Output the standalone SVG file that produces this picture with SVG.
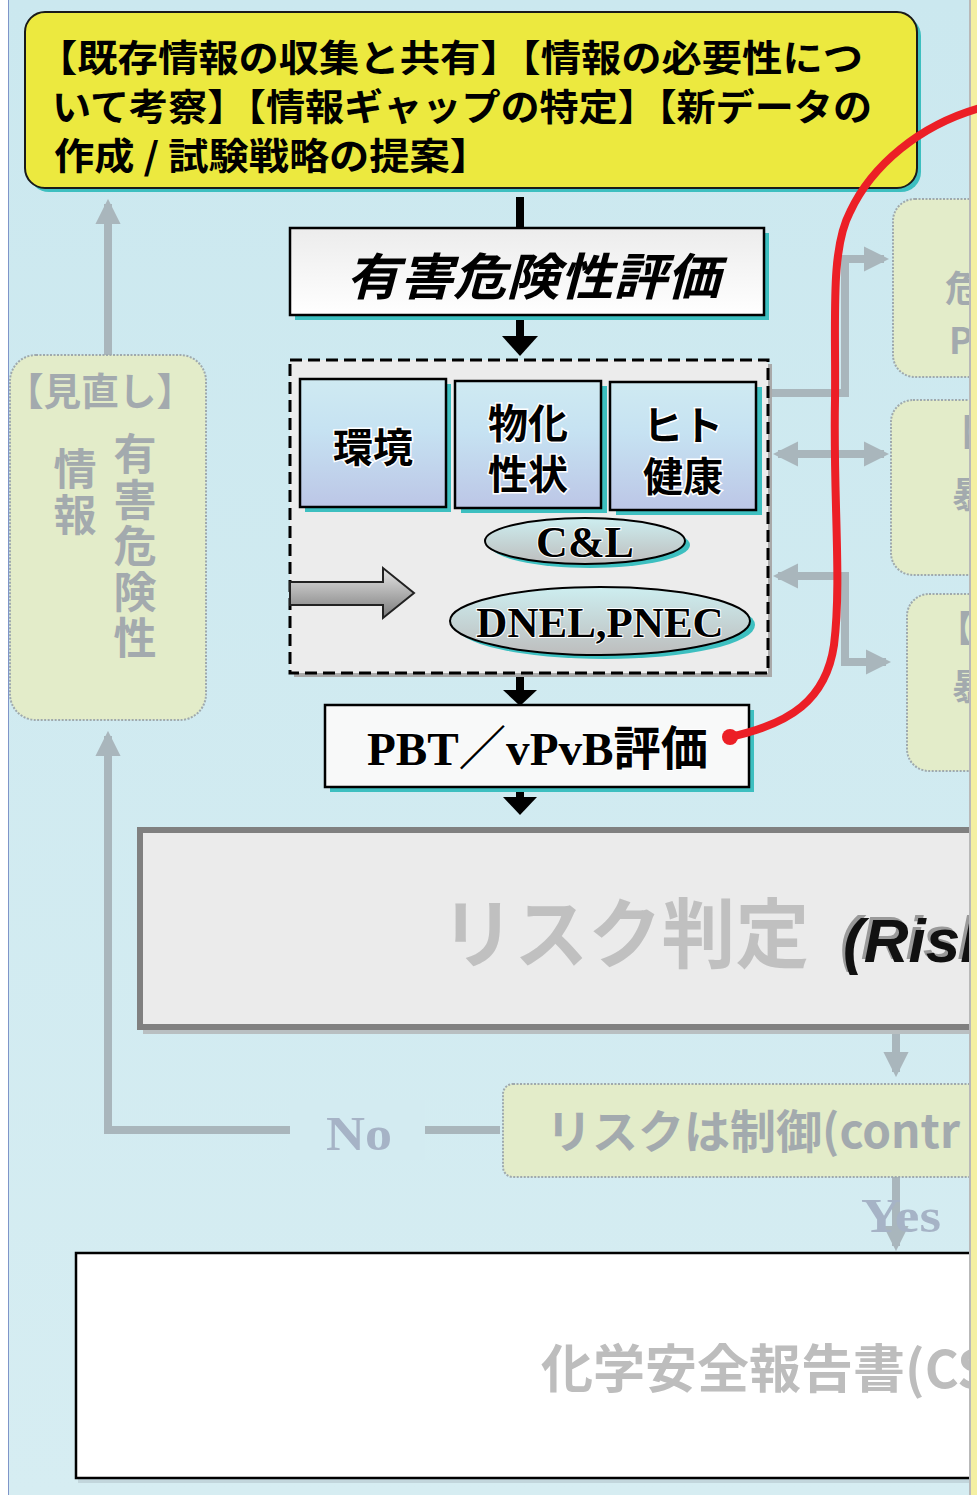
<svg xmlns="http://www.w3.org/2000/svg" width="977" height="1495" viewBox="0 0 977 1495">
<defs>
<linearGradient id="bg" x1="0" y1="0" x2="0" y2="1">
<stop offset="0" stop-color="#cbe8ef"/><stop offset="1" stop-color="#d6edf2"/>
</linearGradient>
<linearGradient id="blueBox" x1="0" y1="0" x2="0" y2="1">
<stop offset="0" stop-color="#cfeaf2"/><stop offset="0.4" stop-color="#c6e2f2"/><stop offset="1" stop-color="#bcc6e6"/>
</linearGradient>
<linearGradient id="whiteBox" x1="0" y1="0" x2="0" y2="1">
<stop offset="0" stop-color="#ececec"/><stop offset="1" stop-color="#ffffff"/>
</linearGradient>
<linearGradient id="ellG" x1="0" y1="0" x2="0" y2="1">
<stop offset="0" stop-color="#cdeef0"/><stop offset="1" stop-color="#bdbdbd"/>
</linearGradient>
<linearGradient id="grayArrow" x1="0" y1="0" x2="0" y2="1">
<stop offset="0" stop-color="#e6e6e6"/><stop offset="1" stop-color="#7a7a7a"/>
</linearGradient>
<marker id="fadeHead" viewBox="0 0 10 10" refX="8" refY="5" markerWidth="3.2" markerHeight="3.2" orient="auto-start-reverse" markerUnits="strokeWidth">
<path d="M0,0 L10,5 L0,10 Z" fill="#a9b6bc"/>
</marker>
<style>
.jp{font-family:"Noto Sans CJK JP","Noto Sans",sans-serif;font-weight:bold}
.ser{font-family:"Liberation Serif","Noto Sans CJK JP",serif;font-weight:bold}
.fadeBox{fill:#e3ecc9;stroke:#9fa9ad;stroke-width:2;stroke-dasharray:2 1.5}
.fadeTxt{fill:#a3aaae;font-family:"Noto Sans CJK JP",sans-serif;font-weight:bold}
.fadeLine{fill:none;stroke:#a9b6bc;stroke-width:8}
.fadeSer{fill:#a6b3c6;font-family:"Liberation Serif","Noto Sans CJK JP",serif;font-weight:bold}
.shadow{fill:#3dbfc0}
</style>
</defs>

<!-- background -->
<rect x="0" y="0" width="977" height="1495" fill="#ffffff"/>
<rect x="8" y="0" width="962" height="1495" fill="url(#bg)"/>
<line x1="8.5" y1="0" x2="8.5" y2="1495" stroke="#7f95c9" stroke-width="1"/>

<!-- connectors -->
<g id="connectors">
<line class="fadeLine" x1="108" y1="355" x2="108" y2="204" marker-end="url(#fadeHead)"/>
<polyline class="fadeLine" points="500,1130 108,1130 108,736" marker-end="url(#fadeHead)"/>
<line class="fadeLine" x1="896" y1="1032" x2="896" y2="1072" marker-end="url(#fadeHead)"/>
<line class="fadeLine" x1="896" y1="1177" x2="896" y2="1246" marker-end="url(#fadeHead)"/>
<polyline class="fadeLine" points="770,393 845,393 845,259 884,259" marker-end="url(#fadeHead)"/>
<line class="fadeLine" x1="778" y1="454" x2="884" y2="454" marker-start="url(#fadeHead)" marker-end="url(#fadeHead)"/>
<polyline class="fadeLine" points="886,662 845,662 845,576 778,576" marker-start="url(#fadeHead)" marker-end="url(#fadeHead)"/>
<line x1="520" y1="197" x2="520" y2="230" stroke="#000" stroke-width="8"/>
<line x1="520" y1="320" x2="520" y2="340" stroke="#000" stroke-width="8"/>
<path d="M502,336 L538,336 L520,356 Z" fill="#000"/>
<line x1="520" y1="676" x2="520" y2="694" stroke="#000" stroke-width="8"/>
<path d="M503,690 L537,690 L520,706 Z" fill="#000"/>
<line x1="520" y1="790" x2="520" y2="800" stroke="#000" stroke-width="8"/>
<path d="M503,797 L537,797 L520,815 Z" fill="#000"/>
</g>

<!-- top yellow box -->
<g id="node-top">
<rect x="29" y="16" width="892" height="176" rx="20" class="shadow"/>
<rect x="25" y="12" width="892" height="176" rx="20" fill="#ece93f" stroke="#1a1a1a" stroke-width="2"/>
<text class="jp" font-size="37" fill="#000" x="37" y="72" textLength="826" lengthAdjust="spacingAndGlyphs">【既存情報の収集と共有】【情報の必要性につ</text>
<text class="jp" font-size="37" fill="#000" x="52" y="121" textLength="820" lengthAdjust="spacingAndGlyphs">いて考察】【情報ギャップの特定】【新データの</text>
<text class="jp" font-size="37" fill="#000" x="54" y="170" textLength="436" lengthAdjust="spacingAndGlyphs">作成 / 試験戦略の提案】</text>
</g>

<!-- hazard assessment -->
<g id="node-hazard">
<rect x="295" y="233" width="474" height="87" class="shadow"/>
<rect x="290" y="228" width="474" height="87" fill="url(#whiteBox)" stroke="#000" stroke-width="2.5"/>
<text class="jp" font-size="50" font-style="italic" x="533" y="295" text-anchor="middle" textLength="374" lengthAdjust="spacingAndGlyphs">有害危険性評価</text>
</g>

<!-- dashed container -->
<g id="node-container">
<rect x="294" y="364" width="478" height="313" fill="#a9a9a9"/>
<rect x="290" y="360" width="478" height="313" fill="#ececec" stroke="#000" stroke-width="3" stroke-dasharray="12 6"/>
</g>

<g id="node-env">
<rect x="305" y="384" width="146" height="128" class="shadow"/>
<rect x="300" y="379" width="146" height="128" fill="url(#blueBox)" stroke="#000" stroke-width="2.5"/>
<text class="jp" font-size="40" x="373" y="462" text-anchor="middle" stroke="#fff" stroke-width="3" paint-order="stroke">環境</text>
</g>
<g id="node-phys">
<rect x="461" y="386" width="146" height="127" class="shadow"/>
<rect x="455" y="381" width="146" height="127" fill="url(#blueBox)" stroke="#000" stroke-width="2.5"/>
<text class="jp" font-size="40" x="528" y="438" text-anchor="middle" stroke="#fff" stroke-width="3" paint-order="stroke">物化</text>
<text class="jp" font-size="40" x="528" y="489" text-anchor="middle" stroke="#fff" stroke-width="3" paint-order="stroke">性状</text>
</g>
<g id="node-human">
<rect x="616" y="387" width="146" height="128" class="shadow"/>
<rect x="610" y="382" width="146" height="128" fill="url(#blueBox)" stroke="#000" stroke-width="2.5"/>
<text class="jp" font-size="40" x="683" y="440" text-anchor="middle" stroke="#fff" stroke-width="3" paint-order="stroke">ヒト</text>
<text class="jp" font-size="40" x="683" y="491" text-anchor="middle" stroke="#fff" stroke-width="3" paint-order="stroke">健康</text>
</g>

<g id="node-cl">
<ellipse cx="590" cy="545" rx="100" ry="23" class="shadow"/>
<ellipse cx="585" cy="541" rx="100" ry="23" fill="url(#ellG)" stroke="#000" stroke-width="2"/>
<text class="ser" font-size="44" x="585" y="557" text-anchor="middle" stroke="#fff" stroke-width="2" paint-order="stroke">C&amp;L</text>
</g>
<g id="node-dnel">
<ellipse cx="605" cy="625" rx="150" ry="34" class="shadow"/>
<ellipse cx="600" cy="621" rx="150" ry="34" fill="url(#ellG)" stroke="#000" stroke-width="2"/>
<text class="ser" font-size="43" x="600" y="637" text-anchor="middle" stroke="#fff" stroke-width="2" paint-order="stroke">DNEL,PNEC</text>
</g>
<g id="node-grayarrow">
<path d="M290,582 L383,582 L383,568 L414,593 L383,618 L383,605 L290,605 Z" fill="url(#grayArrow)" stroke="#222" stroke-width="2"/>
</g>

<!-- PBT -->
<g id="node-pbt">
<rect x="330" y="710" width="424" height="82" class="shadow"/>
<rect x="325" y="705" width="424" height="82" fill="#f8f9f9" stroke="#000" stroke-width="2.5"/>
<text class="ser" font-size="47" x="367" y="765" textLength="341" lengthAdjust="spacingAndGlyphs" stroke="#fff" stroke-width="2" paint-order="stroke">PBT／vPvB評価</text>
</g>

<!-- risk characterisation -->
<g id="node-risk">
<rect x="143" y="834" width="840" height="200" fill="#b9bfc1"/>
<rect x="140" y="830" width="840" height="197" fill="#ebebeb" stroke="#808080" stroke-width="6"/>
<text class="jp" font-size="76" fill="#c0c0c0" x="441" y="962" textLength="368" lengthAdjust="spacingAndGlyphs">リスク判定</text>
<text x="840" y="959" font-family="'Liberation Sans',sans-serif" font-weight="bold" font-style="italic" font-size="62" fill="#9a9a9a">(Risk</text>
<text x="843" y="962" font-family="'Liberation Sans',sans-serif" font-weight="bold" font-style="italic" font-size="62" fill="#111">(Risk</text>
</g>

<!-- faded review box -->
<g id="node-review">
<rect x="10" y="355" width="196" height="365" rx="26" class="fadeBox"/>
<text class="fadeTxt" font-size="38" x="6" y="405" textLength="188" lengthAdjust="spacingAndGlyphs">【見直し】</text>
<text class="fadeTxt" font-size="43" x="75" y="485" text-anchor="middle">情</text>
<text class="fadeTxt" font-size="43" x="75" y="531" text-anchor="middle">報</text>
<text class="fadeTxt" font-size="43" x="135" y="470" text-anchor="middle">有</text>
<text class="fadeTxt" font-size="43" x="135" y="516" text-anchor="middle">害</text>
<text class="fadeTxt" font-size="43" x="135" y="562" text-anchor="middle">危</text>
<text class="fadeTxt" font-size="43" x="135" y="608" text-anchor="middle">険</text>
<text class="fadeTxt" font-size="43" x="135" y="654" text-anchor="middle">性</text>
</g>

<!-- No label -->
<g id="label-no">
<rect x="290" y="1100" width="135" height="60" fill="#d3ebf1"/>
<text class="fadeSer" font-size="48" x="326" y="1150" textLength="66" lengthAdjust="spacingAndGlyphs">No</text>
</g>

<!-- risk controlled -->
<g id="node-controlled">
<rect x="503" y="1084" width="480" height="93" rx="10" class="fadeBox"/>
<text class="fadeTxt" font-size="46" x="546" y="1148" font-weight="normal">リスクは制御(contr</text>
</g>

<g id="label-yes">
<text class="fadeSer" font-size="48" x="861" y="1232" textLength="80" lengthAdjust="spacingAndGlyphs">Yes</text>
</g>

<!-- CSR box -->
<g id="node-csr">
<rect x="78" y="1256" width="905" height="227" fill="#c2d6dc"/>
<rect x="76" y="1253" width="905" height="225" fill="#ffffff" stroke="#000" stroke-width="2.5"/>
<text class="jp" font-size="52" fill="#bdbdbd" x="541" y="1388">化学安全報告書(CS</text>
</g>

<!-- right faded boxes -->
<g id="node-right1">
<rect x="893" y="199" width="110" height="178" rx="22" class="fadeBox"/>
<text class="fadeTxt" font-size="36" x="945" y="302">危</text>
<text class="fadeTxt" font-size="36" x="949" y="354" font-family="'Liberation Sans',sans-serif">P</text>
</g>
<g id="node-right2">
<rect x="891" y="400" width="110" height="175" rx="22" class="fadeBox"/>
<text class="fadeTxt" font-size="36" x="941" y="446">【</text>
<text class="fadeTxt" font-size="36" x="952" y="508">暴</text>
</g>
<g id="node-right3">
<rect x="907" y="594" width="110" height="177" rx="22" class="fadeBox"/>
<text class="fadeTxt" font-size="36" x="937" y="642">【</text>
<text class="fadeTxt" font-size="36" x="952" y="700">暴</text>
</g>

<!-- right edge strip -->
<rect x="969" y="0" width="2" height="1495" fill="#b9b9b9"/>
<rect x="971" y="0" width="6" height="1495" fill="#f4f0a2"/>

<!-- red annotation curve -->
<g id="red-mark">
<path d="M730,737 C790,724 826,700 834,645 C842,580 833,500 835,400 C836,320 830,250 850,212 C872,165 920,125 980,108" fill="none" stroke="#ec1f26" stroke-width="8" stroke-linecap="round"/>
<circle cx="730" cy="737" r="8" fill="#ec1f26"/>
</g>
</svg>
